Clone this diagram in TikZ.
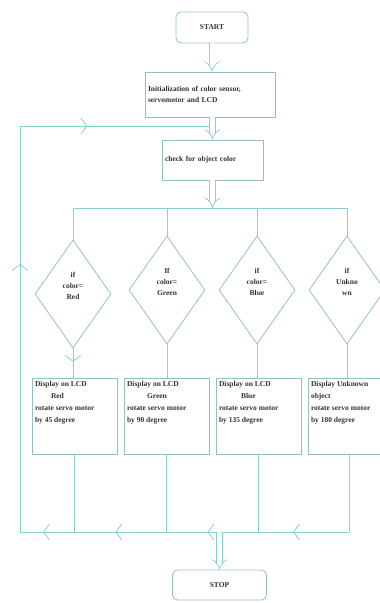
\documentclass[tikz,border=0pt]{standalone}
\usepackage{fontspec}
\setmainfont{Liberation Serif}
\usetikzlibrary{shapes.geometric,arrows.meta,decorations.markings}
\definecolor{ln}{RGB}{135,208,208}
\definecolor{bx}{RGB}{150,192,192}
\begin{document}
\begin{tikzpicture}[x=1pt,y=-1pt,
  font=\fontsize{7.5}{11}\selectfont\bfseries, text=black!80,
  proc/.style={draw=bx, line width=0.8pt, rectangle, inner sep=3pt},
  term/.style={proc, rounded corners=5pt},
  dec/.style={draw=bx, line width=0.8pt, diamond, aspect=0.7, minimum width=76pt,
              minimum height=108pt, inner sep=0pt, align=center},
  actbox/.style={proc, anchor=north},
  flow/.style={draw=ln, line width=0.8pt},
  hollow/.style={draw=ln, line width=0.7pt, double=white, double distance=5pt, -{Implies}},
  chev/.style={decoration={markings, mark=at position #1 with
      {\arrow[ln, line width=0.8pt]{Straight Barb[length=6pt,width=16pt]}}}, postaction=decorate},
  chevs/.style={decoration={markings,
      mark=at position 0.17 with {\arrow[ln, line width=0.8pt]{Straight Barb[length=6pt,width=16pt]}},
      mark=at position 0.43 with {\arrow[ln, line width=0.8pt]{Straight Barb[length=6pt,width=16pt]}},
      mark=at position 0.71 with {\arrow[ln, line width=0.8pt]{Straight Barb[length=6pt,width=16pt]}},
      mark=at position 0.93 with {\arrow[ln, line width=0.8pt]{Straight Barb[length=6pt,width=16pt]}}},
      postaction=decorate}
]
\useasboundingbox (0,0) rectangle (380,603);
\clip (0,0) rectangle (380,603);

% nodes
\node[term, minimum width=72pt, minimum height=31pt] (start) at (212,27.5) {START};
\node[proc, minimum height=45pt, text width=124pt, align=left] (init) at (210,94.5)
  {Initialization of color sensor,\\ servomotor and LCD};
\node[proc, minimum height=40pt, text width=95pt, align=left] (check) at (212.5,160)
  {check for object color\\[4pt]};

\node[dec] (dR) at (73,294) {if\\ color=\\ Red\\[6pt]};
\node[dec] (dG) at (167,290) {If\\ color=\\ Green\\[6pt]};
\node[dec] (dB) at (257,290) {if\\ color=\\ Blue\\[6pt]};
\node[dec] (dU) at (347,290) {if\\ Unkno\\ wn\\[6pt]};

\node[actbox] (bR) at (74.5,378) {\parbox[t][70pt][t]{79pt}{\fontsize{7.5}{12}\selectfont\raggedright
  Display on LCD\\ \hspace*{16pt}Red\\ rotate servo motor\\ by 45 degree}};
\node[actbox] (bG) at (166.5,378) {\parbox[t][70pt][t]{79pt}{\fontsize{7.5}{12}\selectfont\raggedright
  Display on LCD\\ \hspace*{20pt}Green\\ rotate servo motor\\ by 90 degree}};
\node[actbox] (bB) at (258.5,378) {\parbox[t][70pt][t]{79pt}{\fontsize{7.5}{12}\selectfont\raggedright
  Display on LCD\\ \hspace*{22pt}Blue\\ rotate servo motor\\ by 135 degree}};
\node[actbox] (bU) at (349,378) {\parbox[t][70pt][t]{76pt}{\fontsize{7.5}{12}\selectfont\raggedright
  Display Unknown\\ object\\ rotate servo motor\\ by 180 degree}};

\node[term, minimum width=94pt, minimum height=30pt] (stop) at (219.5,585) {STOP};

% coordinates
\coordinate (bar) at (212,208);
\coordinate (bot) at (220,532);
\coordinate (loopBL) at (20,532);
\coordinate (loopTL) at (20,126);
\coordinate (join) at (212.5,126);

% loop back
\draw[flow, chevs] (bU.south |- bot) -- (loopBL);
\draw[flow, chev=0.66] (loopBL) -- (loopTL);
\draw[flow, chev=0.35] (loopTL) -- (join);

% box outputs
\draw[flow] (bR.south) -- (bR.south |- bot);
\draw[flow] (bG.south) -- (bG.south |- bot);
\draw[flow] (bB.south) -- (bB.south |- bot);
\draw[flow] (bU.south) -- (bU.south |- bot);

% split bar
\draw[flow] (dR.north) -- (dR.north |- bar) -- (dU.north |- bar) -- (dU.north);
\draw[flow] (dG.north) -- (dG.north |- bar);
\draw[flow] (dB.north) -- (dB.north |- bar);

% decisions to boxes
\draw[flow, chev=0.45] (dR.south) -- (dR.south |- bR.north);
\draw[flow] (dG.south) -- (dG.south |- bG.north);
\draw[flow] (dB.south) -- (dB.south |- bB.north);
\draw[flow] (dU.south) -- (dU.south |- bU.north);

% main hollow arrows
\draw[hollow] (start.south) -- (start.south |- init.north);
\draw[hollow] (check.north |- init.south) -- (check.north);
\draw[hollow] (check.south) -- (check.south |- bar);
\draw[hollow] (stop.north |- bot) -- (stop.north);
\end{tikzpicture}
\end{document}
